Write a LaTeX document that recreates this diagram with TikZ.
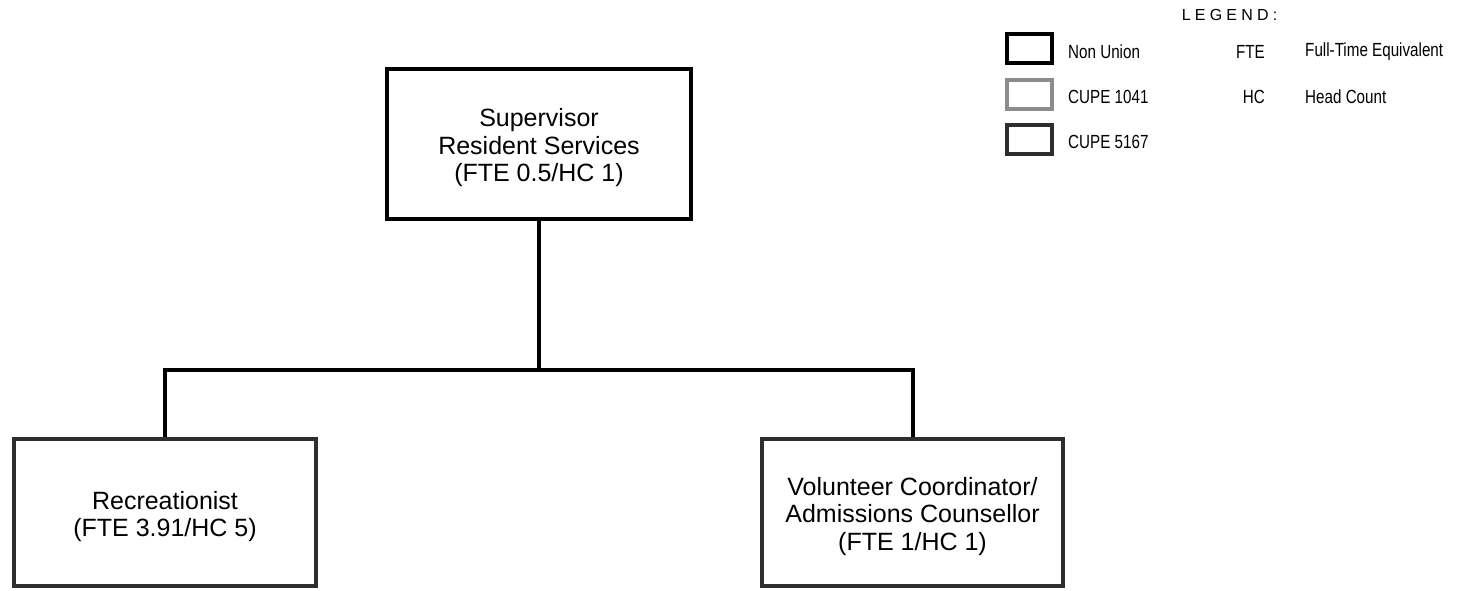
\documentclass[tikz,border=0pt]{standalone}
\usepackage{fontspec}
\setmainfont{Liberation Sans}
\newfontfamily\narrowfont[FakeStretch=0.8]{Liberation Sans}
\begin{document}
\begin{tikzpicture}[x=1pt,y=-1pt,
  boxtext/.style={inner sep=0pt, align=center, yshift=-4pt,
    font=\fontsize{25}{27.5}\selectfont},
  nonunion/.style={draw=black, line width=4pt, inner sep=0pt},
  cupefive/.style={draw=black!82, line width=4pt, inner sep=0pt},
  legbox/.style={line width=4pt, inner sep=0pt, minimum width=45pt, minimum height=29pt},
  legtext/.style={inner sep=0pt, font=\narrowfont\fontsize{19}{21}\selectfont},
  link/.style={line width=4pt, line cap=rect}
]
\useasboundingbox (0,0) rectangle (1463,590);

% main boxes
\node[nonunion, minimum width=304pt, minimum height=150pt,
  label={[boxtext]center:{Supervisor\\Resident Services\\(FTE 0.5/HC 1)}}] (sup) at (539,144) {};
\node[cupefive, minimum width=302pt, minimum height=147pt,
  label={[boxtext]center:{Recreationist\\(FTE 3.91/HC 5)}}] (rec) at (165,512.5) {};
\node[cupefive, minimum width=301pt, minimum height=147pt,
  label={[boxtext]center:{Volunteer Coordinator/\\Admissions Counsellor\\(FTE 1/HC 1)}}] (vol) at (912.5,512.5) {};

% connectors
\coordinate (mid) at (539,370);
\coordinate (lft) at (165,370);
\coordinate (rgt) at (912.5,370);
\draw[link] (sup.south) -- (mid);
\draw[link] (lft) -- (rgt);
\draw[line width=4pt] (lft) -- (rec.north);
\draw[line width=4pt] (rgt) -- (vol.north);

% legend
\node[inner sep=0pt, font=\fontsize{16}{18}\selectfont] (legtitle) at (1229.5,15)
  {L\hspace{4.2pt}E\hspace{4.2pt}G\hspace{4.2pt}E\hspace{4.2pt}N\hspace{4.2pt}D\hspace{4.2pt}:};
\node[legbox, draw=black] (lb1) at (1029.5,48.5) {};
\node[legbox, draw=black!45] (lb2) at (1029.5,94) {};
\node[legbox, draw=black!82] (lb3) at (1029.5,139) {};
\node[legtext, anchor=west] (lt1) at (1068,52) {Non Union};
\node[legtext, anchor=west] (lt2) at (1068,97) {CUPE 1041};
\node[legtext, anchor=west] (lt3) at (1068,142) {CUPE 5167};
\node[legtext, anchor=east] (ab1) at (1265,52) {FTE};
\node[legtext, anchor=east] (ab2) at (1265,97) {HC};
\node[legtext, anchor=west] (df1) at (1305,52) {Full-Time Equivalent};
\node[legtext, anchor=west] (df2) at (1305,97) {Head Count};
\end{tikzpicture}
\end{document}
